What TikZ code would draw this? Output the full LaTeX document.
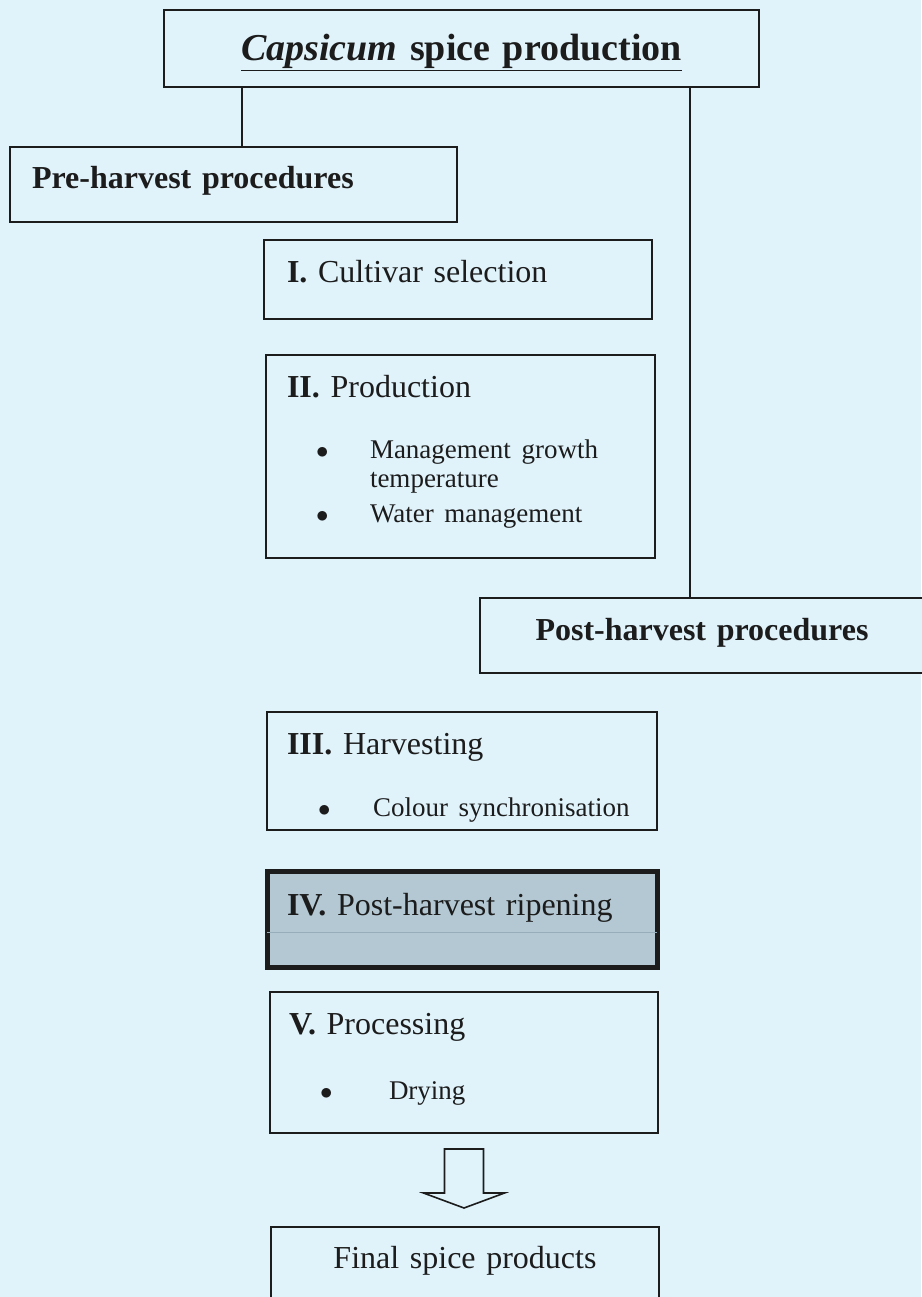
\documentclass[tikz,border=0pt]{standalone}
\usepackage{fontspec}
\setmainfont{Liberation Serif}
\usepackage{tikz}
\usetikzlibrary{positioning, calc}
\definecolor{SpiceBg}{HTML}{E0F3FB}
\definecolor{SpiceInk}{HTML}{1C1C1C}
\definecolor{SpiceRipe}{HTML}{B3C8D3}
\definecolor{SpiceRule}{HTML}{97ADB9}

\begin{document}
\begin{tikzpicture}[
    x=1pt, y=-1pt,
    stage/.style={
      rectangle, draw=SpiceInk, fill=SpiceBg, line width=1.6pt, outer sep=0pt,
      anchor=north west, inner xsep=21pt, inner ysep=0pt, text height=42pt,
      align=left, text=SpiceInk, font=\fontsize{32}{36}\selectfont
    },
    head/.style={stage, font=\fontsize{32}{36}\selectfont\bfseries},
    link/.style={line width=1.6pt, color=SpiceInk},
    hollow/.style={draw=SpiceInk, fill=SpiceBg, line width=1.6pt, line join=miter}
  ]
    \fill[SpiceBg] (0,0) rectangle (921,1297);
    \useasboundingbox (0,0) rectangle (921,1297);

    \node[head, align=center, inner xsep=0pt, text width=595pt, text height=51pt, text depth=26pt,
      font=\fontsize{38}{42}\selectfont\bfseries] (title) at (164,10)
      {\underline{\textit{Capsicum} spice production}};
    \node[head, inner xsep=22pt, text width=403pt, text depth=33pt] (pre) at (10,147) {Pre-harvest procedures};
    \node[stage, inner xsep=23pt, text width=342pt, text depth=37pt] (cult) at (264,240) {{\bfseries I.} Cultivar selection};
    \node[stage, text width=347pt, text depth=161pt] (prod) at (266,355) {{\bfseries II.} Production\par\vspace{32pt}
      {\fontsize{27}{29}\selectfont
      \hspace*{29pt}\makebox[54pt][l]{$\bullet$}Management growth\\
      \hspace*{83pt}temperature\\[6pt]
      \hspace*{29pt}\makebox[54pt][l]{$\bullet$}Water management\par}};
    \node[head, align=center, inner xsep=0pt, text width=444pt, text depth=33pt] (post) at (480,598) {Post-harvest procedures};

    \node[stage, inner xsep=20pt, text width=350pt, text depth=76pt] (harv) at (267,712) {{\bfseries III.} Harvesting\par\vspace{33pt}
      {\fontsize{27}{29}\selectfont
      \hspace*{31pt}\makebox[55pt][l]{$\bullet$}Colour synchronisation\par}};
    \node[stage, below=41pt of harv.south west, anchor=north west, line width=5pt, fill=SpiceRipe,
      inner xsep=20pt, text width=350pt, text height=44pt, text depth=52pt] (ripe) {{\bfseries IV.} Post-harvest ripening};
    \node[stage, below=25pt of ripe.south west, anchor=north west, xshift=3pt,
      inner xsep=19pt, text width=350pt, text depth=99pt] (proc) {{\bfseries V.} Processing\par\vspace{36pt}
      {\fontsize{27}{29}\selectfont
      \hspace*{31pt}\makebox[69pt][l]{$\bullet$}Drying\par}};
    \node[stage, below=94pt of proc.south west, anchor=north west, xshift=1pt, align=center,
      inner xsep=0pt, text width=388pt, text height=41pt, text depth=80pt] (final) {Final spice products};

    % faint rule across the shaded box
    \draw[SpiceRule, line width=0.8pt] ([yshift=-61pt]ripe.north west) -- ([yshift=-61pt]ripe.north east);

    \draw[link] ([xshift=78pt]title.south west) -- ([xshift=78pt]title.south west |- pre.north);
    \draw[link] ([xshift=526pt]title.south west) -- ([xshift=526pt]title.south west |- post.north);

    \coordinate (shaft) at ($(proc.south)+(0,16)$);
    \draw[hollow] ($(shaft)+(-19.5,0)$) -- ++(39,0) -- ++(0,44) -- ++(21,0) -- ++(-40.5,15)
      -- ++(-40.5,-15) -- ++(21,0) -- cycle;
  \end{tikzpicture}
\end{document}
